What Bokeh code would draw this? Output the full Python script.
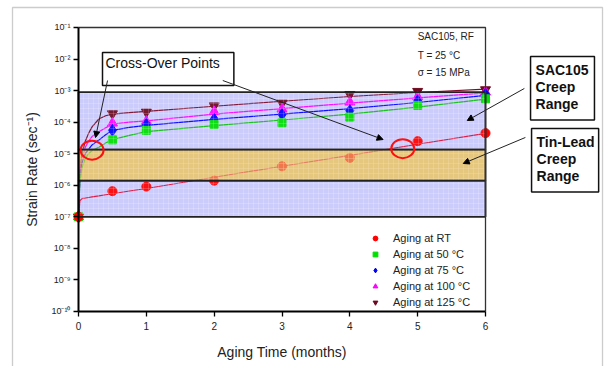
from bokeh.plotting import figure
from bokeh.models import (Range1d, FixedTicker, Legend, LegendItem, Label, Arrow,
                          NormalHead, PolyAnnotation, LinearAxis, LogAxis)
from bokeh.embed import file_html
from bokeh.resources import INLINE

# ---------------- data ----------------
months = [0, 0.5, 1, 2, 3, 4, 5, 6]
rate_rt = [1e-7, 6.5e-7, 9.1e-7, 1.4e-6, 4.0e-6, 7.4e-6, 2.5e-5, 4.5e-5]
rate_50 = [1e-7, 2.75e-5, 5.5e-5, 8.5e-5, 9.6e-5, 1.45e-4, 3.4e-4, 5.5e-4]
rate_75 = [1e-7, 5.5e-5, 8.5e-5, 1.25e-4, 1.74e-4, 2.3e-4, 4.7e-4, 7.6e-4]
rate_100 = [1e-7, 9.3e-5, 1.07e-4, 2.15e-4, 2.6e-4, 4.3e-4, 6.4e-4, 8.9e-4]
rate_125 = [1e-7, 1.85e-4, 2.1e-4, 3.3e-4, 4.0e-4, 7.6e-4, 9.5e-4, 1.07e-3]

# fitted trend curves
fit_t = [0, 0.02, 0.05, 0.1, 0.15, 0.2, 0.3, 0.4, 0.5, 0.75, 1, 2, 3, 4, 5, 6]
fit_rt = [1e-7, 3.2e-7, 3.8e-7, 3.9e-7, 4.1e-7, 4.3e-7, 4.6e-7, 5.0e-7, 5.4e-7,
          6.6e-7, 7.9e-7, 1.8e-6, 4.0e-6, 8.9e-6, 2.0e-5, 4.4e-5]
fit_50 = [1e-7, 1.26e-6, 3.5e-6, 7.1e-6, 1.0e-5, 1.26e-5, 1.6e-5, 2.2e-5, 2.8e-5,
          3.8e-5, 5.0e-5, 7.8e-5, 1.17e-4, 1.8e-4, 3.0e-4, 5.4e-4]
fit_75 = [1e-7, 1.6e-6, 5.0e-6, 1.0e-5, 1.4e-5, 1.9e-5, 2.7e-5, 4.0e-5, 5.5e-5,
          6.8e-5, 7.9e-5, 1.23e-4, 1.8e-4, 2.7e-4, 4.2e-4, 7.1e-4]
fit_100 = [1e-7, 2.0e-6, 7.1e-6, 1.6e-5, 2.5e-5, 3.5e-5, 5.0e-5, 6.6e-5, 8.7e-5,
           1.0e-4, 1.1e-4, 1.8e-4, 2.7e-4, 4.0e-4, 5.9e-4, 8.5e-4]
fit_125 = [1e-7, 2.5e-6, 1.0e-5, 2.5e-5, 4.5e-5, 7.1e-5, 1.26e-4, 1.6e-4, 1.8e-4,
           2.0e-4, 2.2e-4, 3.2e-4, 4.6e-4, 6.5e-4, 8.7e-4, 1.12e-3]

series_names = ["Aging at RT", "Aging at 50 °C", "Aging at 75 °C",
                "Aging at 100 °C", "Aging at 125 °C"]

sac105_range = [1e-7, 9e-4]
snpb_range = [1.4e-6, 1.35e-5]
crossover_t = [0.2, 4.78]
crossover_rate = [1.3e-5, 1.45e-5]

x_ticks = [0, 1, 2, 3, 4, 5, 6]
y_ticks = [1e-10, 1e-9, 1e-8, 1e-7, 1e-6, 1e-5, 1e-4, 1e-3, 1e-2, 1e-1]
y_tick_labels = ["10⁻¹⁰", "10⁻⁹", "10⁻⁸", "10⁻⁷", "10⁻⁶", "10⁻⁵", "10⁻⁴",
                 "10⁻³", "10⁻²", "10⁻¹"]
x_lim = (0, 6)
y_lim = (1e-10, 1e-1)

FONT = "Liberation Sans"

# the frame fills the whole canvas; axes are pinned at x=0 and y=1e-10
p = figure(width=605, height=366, x_range=Range1d(-1.150, 7.769),
           y_range=Range1d(10 ** -11.743, 10 ** -0.1444), y_axis_type="log",
           x_axis_location=None, y_axis_location=None,
           output_backend="svg", toolbar_location=None,
           min_border=0)
p.background_fill_color = "white"
p.border_fill_color = "white"
p.xgrid.visible = False
p.ygrid.visible = False
p.outline_line_color = None

# outer picture frame
p.add_layout(PolyAnnotation(xs=[-0.973, 7.725, 7.725, -0.973],
                            ys=[0.4305, 0.4305, 1e-13, 1e-13],
                            fill_alpha=0, line_color="#555555", line_width=1.3))

# ---------------- bands (underlay) ----------------
p.quad(left=x_lim[0], right=x_lim[1], bottom=sac105_range[0], top=sac105_range[1],
       fill_color="#CBCBFC", line_color=None)
p.quad(left=x_lim[0], right=x_lim[1], bottom=snpb_range[0], top=snpb_range[1],
       fill_color="#E6C77E", line_color=None)

# ---------------- fit lines ----------------
line_cols = ["#E0103A", "#10C010", "#0000FF", "#FF00FF", "#7A0A28"]
fits = [fit_rt, fit_50, fit_75, fit_100, fit_125]
for f, c in zip(fits[::-1], line_cols[::-1]):
    p.line(fit_t, f, line_color=c, line_width=1.2)

# ---------------- markers ----------------
r125 = p.scatter(months, rate_125, marker="inverted_triangle", size=10,
                 fill_color="#6E0A1E", line_color="#6E0A1E")
r100 = p.scatter(months, rate_100, marker="triangle", size=10,
                 fill_color="#FF00FF", line_color="#FF00FF")
r75 = p.scatter(months, rate_75, marker="diamond", size=12,
                fill_color="#0000FF", line_color="#0000FF")
r50 = p.scatter(months, rate_50, marker="square", size=8,
                fill_color="#00E000", line_color="#00E000")
rrt = p.scatter(months, rate_rt, marker="circle", size=9,
                fill_color="#FF0000", line_color="#FF0000")

# ---------------- bands (overlay with grid texture) ----------------
p.quad(left=[x_lim[0]] * 2, right=[x_lim[1]] * 2,
       bottom=[sac105_range[0], snpb_range[1]], top=[snpb_range[0], sac105_range[1]],
       fill_color="#CBCBFC", fill_alpha=0.08,
       hatch_pattern="+", hatch_color="white", hatch_alpha=0.18,
       hatch_scale=5, hatch_weight=1,
       line_color="#222222", line_width=1.8)
p.quad(left=x_lim[0], right=x_lim[1], bottom=snpb_range[0], top=snpb_range[1],
       fill_color="#E6C77E", fill_alpha=0.6,
       hatch_pattern="+", hatch_color="#F4E2B4", hatch_alpha=0.3,
       hatch_scale=5, hatch_weight=1,
       line_color="#222222", line_width=1.8)

# cross-over circles
p.ellipse(x=crossover_t, y=crossover_rate, width=23, height=19,
          width_units="screen", height_units="screen",
          fill_color=None, line_color="#FF1010", line_width=2)

# plot-area top and right edges
p.line([x_lim[0], x_lim[1], x_lim[1]], [y_lim[1], y_lim[1], y_lim[0]],
       line_color="#333333", line_width=1.3)

# ---------------- axes ----------------
xax = LinearAxis(fixed_location=y_lim[0], bounds=x_lim,
                 ticker=FixedTicker(ticks=x_ticks),
                 axis_label="Aging Time (months)")
yax = LogAxis(fixed_location=x_lim[0], bounds=y_lim,
              ticker=FixedTicker(ticks=y_ticks),
              axis_label="Strain Rate (sec⁻¹)")
for ax in (xax, yax):
    ax.axis_line_color = "black"
    ax.axis_line_width = 2
    ax.major_tick_line_color = "black"
    ax.major_tick_line_width = 1.3
    ax.major_tick_out = 5
    ax.major_tick_in = 0
    ax.minor_tick_line_color = None
    ax.major_label_text_font = FONT
    ax.major_label_text_color = "#222222"
    ax.axis_label_text_font = FONT
    ax.axis_label_text_font_style = "normal"
    ax.axis_label_text_color = "#222222"
    ax.axis_label_text_font_size = "14px"

xax.major_label_text_font_size = "10px"
xax.major_label_standoff = 6
xax.axis_label_standoff = 10
yax.major_label_overrides = {t: l for t, l in zip(y_ticks, y_tick_labels)}
yax.major_label_text_font_size = "9px"
yax.major_label_standoff = 3
yax.axis_label_standoff = 8
p.add_layout(xax, "below")
p.add_layout(yax, "left")

# ---------------- legend ----------------
legend = Legend(items=[LegendItem(label=n, renderers=[r])
                       for n, r in zip(series_names, [rrt, r50, r75, r100, r125])],
                location=(369, 58), orientation="vertical",
                label_text_font=FONT, label_text_font_size="11px",
                label_text_color="#222222",
                glyph_width=12, glyph_height=12, label_height=12,
                label_standoff=12, spacing=4, padding=0, margin=0,
                border_line_color=None, background_fill_alpha=0)
p.add_layout(legend, "center")

# ---------------- annotations ----------------
for txt, yv in [("SAC105, RF", 5.19e-2), ("T = 25 °C", 1.30e-2), ("σ = 15 MPa", 3.75e-3)]:
    p.add_layout(Label(x=5.0, y=yv, text=txt, text_font=FONT, text_font_size="10px",
                       text_color="#222222", text_baseline="middle", text_align="left"))

p.add_layout(Label(x=1.322, y=4.84e-3, text="Cross-Over Points", text_font=FONT,
                   text_font_size="14px", text_color="#111111",
                   text_align="center", text_baseline="middle",
                   border_line_color="#111111", border_line_width=1.5,
                   background_fill_color="white", padding=(3, 14, 3, 14)))

arrows = [(0.428, 2.09e-3, 0.251, 3.27e-5),
          (2.127, 2.09e-3, 4.490, 2.82e-5),
          (6.573, 1.17e-3, 5.731, 1.13e-4),
          (6.588, 3.27e-5, 5.672, 4.91e-6)]
for xs, ys, xe, ye in arrows:
    p.add_layout(Arrow(end=NormalHead(size=6, fill_color="black", line_color="black"),
                       x_start=xs, y_start=ys, x_end=xe, y_end=ye,
                       line_color="#222222", line_width=1))

p.add_layout(Label(x=6.664, y=1.205e-2, text="SAC105\nCreep\nRange", text_font=FONT,
                   text_font_size="14px", text_font_style="bold", text_color="#111111",
                   text_align="left", text_baseline="top", text_line_height=1.05,
                   border_line_color="#111111", border_line_width=1.5,
                   background_fill_color="white", padding=(5, 6, 6, 8)))
p.add_layout(Label(x=6.679, y=6.3e-5, text="Tin-Lead\nCreep\nRange", text_font=FONT,
                   text_font_size="14px", text_font_style="bold", text_color="#111111",
                   text_align="left", text_baseline="top", text_line_height=1.05,
                   border_line_color="#111111", border_line_width=1.5,
                   background_fill_color="white", padding=(5, 4, 6, 8)))

open("out.html", "w").write(file_html(p, INLINE))
